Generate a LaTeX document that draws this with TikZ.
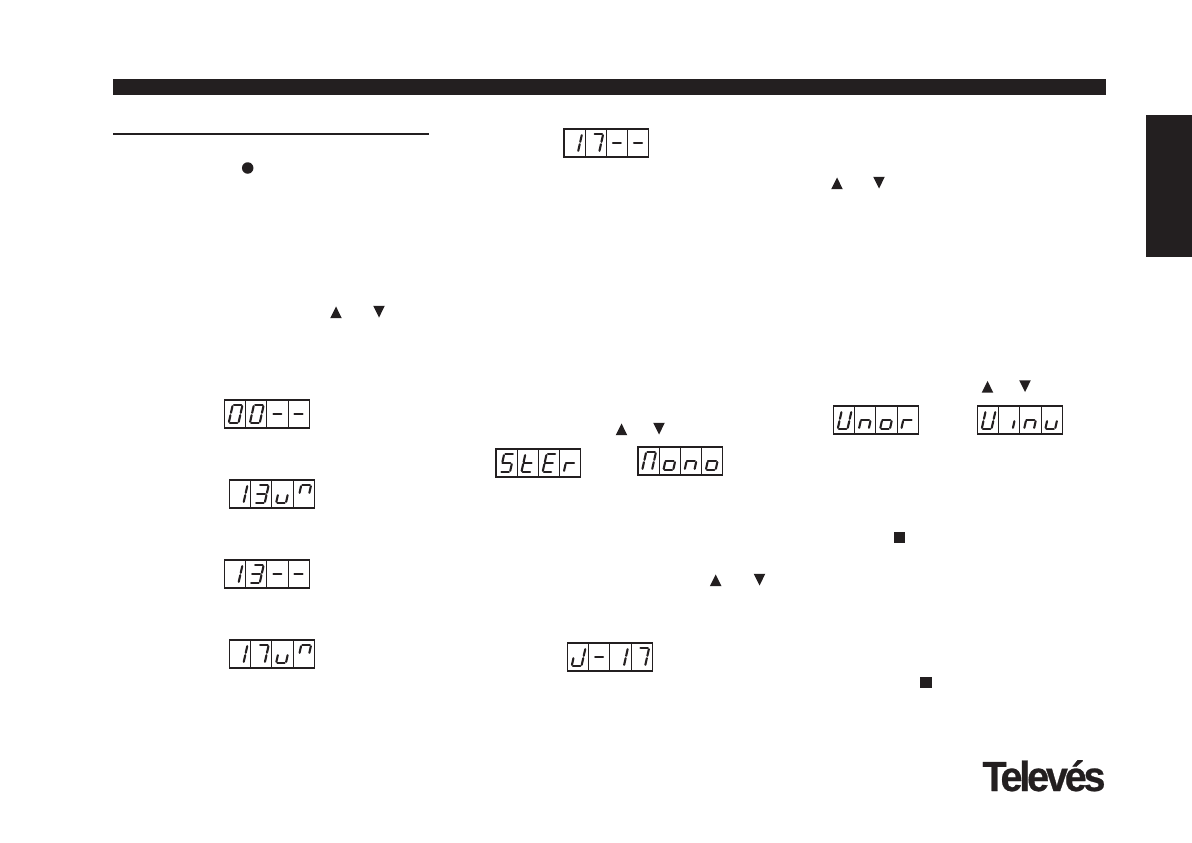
\documentclass[tikz,border=0pt]{standalone}
\usepackage{fontspec}
\newfontfamily\logofont[LetterSpace=-8,FakeBold=0.6]{Liberation Sans}
\usetikzlibrary{shapes.geometric}
\definecolor{ink}{HTML}{231F20}

\def\sega{(8.2,5) -- (18,5)}
\def\segb{(18,5) -- (16,14)}
\def\segc{(16,14) -- (14,23)}
\def\segd{(14,23) -- (4.2,23)}
\def\sege{(4.2,23) -- (6.2,14)}
\def\segf{(6.2,14) -- (8.2,5)}
\def\segg{(5.2,14) -- (15.6,14)}

\newcommand{\lcd}[4]{
    \foreach \glyph [count=\i] in {#4}{
        \begin{scope}[shift={(#2+21.2*\i-20.7,#3)}]
            \node[cell] (#1\i) at (10.6,14) {};
            \foreach \s in \glyph {
                \draw[seg] \csname seg\s\endcsname;
            }
        \end{scope}
    }
}

\tikzset{
    cell/.style={draw=ink,line width=1.1pt,rectangle,minimum width=21.2pt,minimum height=28pt,inner sep=0pt},
    seg/.style={draw=ink,line width=2.1pt,line cap=round,shorten >=1.2pt,shorten <=1.2pt},
    upkey/.style={fill=ink,regular polygon,regular polygon sides=3,inner sep=0pt,minimum size=13.5pt,yscale=1.16,yshift=-2pt},
    downkey/.style={fill=ink,regular polygon,regular polygon sides=3,shape border rotate=180,inner sep=0pt,minimum size=13.5pt,yscale=1.16,yshift=2pt},
    stopkey/.style={fill=ink,rectangle,inner sep=0pt,minimum size=11.2pt},
    reckey/.style={fill=ink,circle,inner sep=0pt,minimum size=11.5pt}
}

\begin{document}
\begin{tikzpicture}[x=1pt,y=-1pt]
    \useasboundingbox (0,0) rectangle (1192,843);

    \fill[ink] (113,79) rectangle (1106,95);
    \fill[ink] (113,133) rectangle (429,135);
    \fill[ink] (1146,115) rectangle (1192,257);

    \node[reckey] (rec) at (247.7,168) {};
    \node[upkey] (upa) at (336,312) {};
    \node[downkey] (downa) at (379,312) {};
    \node[upkey] (upb) at (837,183) {};
    \node[downkey] (downb) at (879,183) {};
    \node[upkey] (upc) at (621.5,429) {};
    \node[downkey] (downc) at (659,429) {};
    \node[upkey] (upd) at (987.5,386.5) {};
    \node[downkey] (downd) at (1025,386.5) {};
    \node[upkey] (upe) at (715.7,580) {};
    \node[downkey] (downe) at (759.5,580) {};
    \node[stopkey] (stopa) at (899.5,537.5) {};
    \node[stopkey] (stopb) at (926,682.5) {};

    \lcd{chan}{563.5}{129}{{b,c},{a,b,c},{g},{g}}
    \lcd{ster}{495.5}{449}{{a,c,d,f,g},{d,e,f,g},{a,d,e,f,g},{e,g}}
    \lcd{mono}{637.5}{447}{{a,b,c,e,f},{c,d,e,g},{c,e,g},{c,d,e,g}}
    \lcd{unor}{833}{406}{{b,c,d,e,f},{c,e,g},{c,d,e,g},{e,g}}
    \lcd{uinu}{977}{406}{{b,c,d,e,f},{c},{c,e,g},{c,d,e}}
    \lcd{zero}{224}{400}{{a,b,c,d,e,f},{a,b,c,d,e,f},{g},{g}}
    \lcd{thun}{229}{480}{{b,c},{a,b,c,d,g},{c,d,e},{a,b,f}}
    \lcd{thir}{224}{560}{{b,c},{a,b,c,d,g},{g},{g}}
    \lcd{seun}{229}{640}{{b,c},{a,b,c},{c,d,e},{a,b,f}}
    \lcd{jseq}{567}{643}{{b,c,d,e},{g},{b,c},{a,b,c}}

    \node[text=ink,font=\logofont\bfseries\fontsize{42}{42}\selectfont,anchor=base,inner sep=0pt,xscale=0.94] (logo) at (1044,791) {Televés};
\end{tikzpicture}
\end{document}
